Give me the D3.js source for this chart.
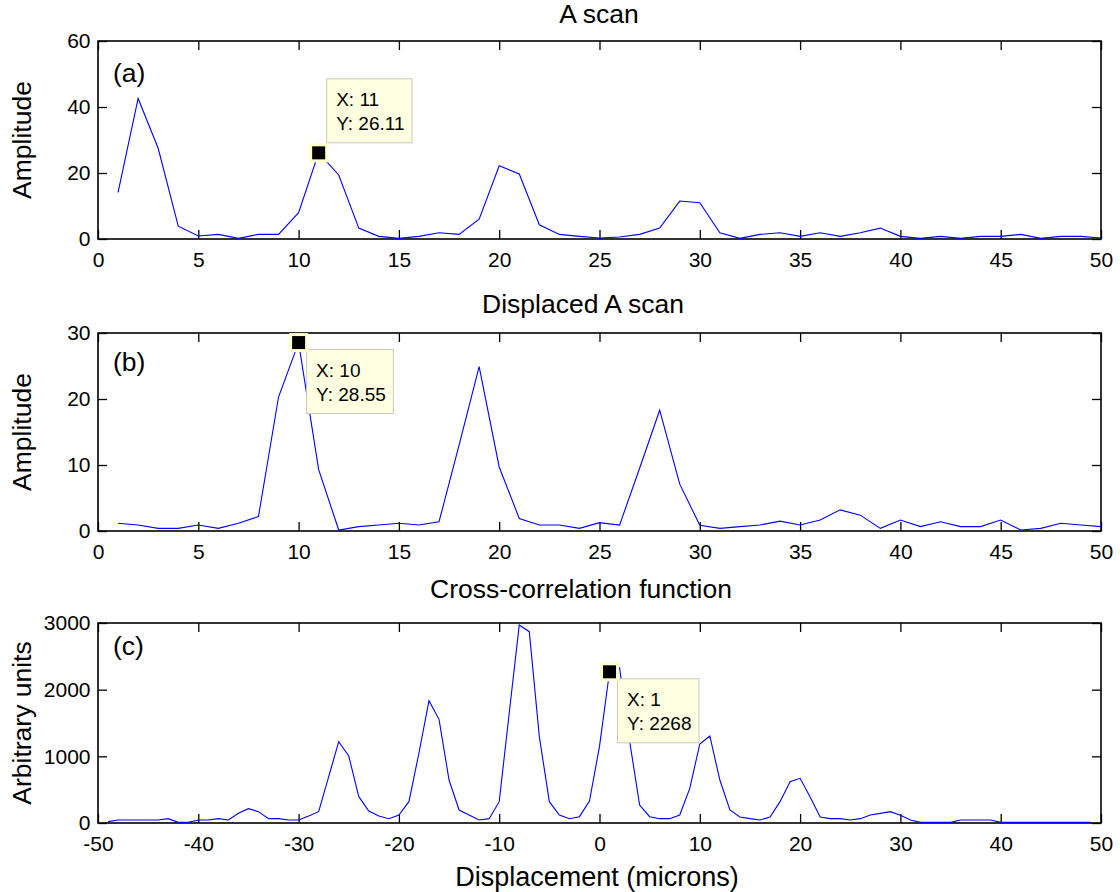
<!DOCTYPE html>
<html>
<head>
<meta charset="utf-8">
<script src="https://cdn.jsdelivr.net/npm/d3@7"></script>
<style>
  body { margin: 0; background: #fff; }
  svg { display: block; }
  text { font-family: "Liberation Sans", Arial, Helvetica, sans-serif; fill: #000; }
</style>
</head>
<body>
<svg id="fig" width="1120" height="892"></svg>
<script>
// ---- data -------------------------------------------------------------
// A scan amplitude, samples 1..50
const scanA = [
  14.1, 42.6, 27.5, 3.9, 0.9, 1.4, 0.2, 1.4, 1.4, 8.0,
  26.11, 19.4, 3.3, 0.8, 0.2, 0.8, 1.9, 1.4, 6.0, 22.2,
  19.7, 4.3, 1.4, 0.8, 0.3, 0.6, 1.4, 3.3, 11.5, 11.0,
  1.9, 0.2, 1.4, 1.9, 0.8, 1.9, 0.8, 1.9, 3.3, 0.8,
  0.2, 0.8, 0.2, 0.8, 0.8, 1.4, 0.2, 0.8, 0.8, 0.3
];
// Displaced A scan amplitude, samples 1..50
const scanB = [
  1.17, 0.9, 0.4, 0.4, 0.9, 0.4, 1.17, 2.2, 20.3, 28.55,
  9.3, 0.15, 0.66, 0.9, 1.17, 0.9, 1.4, 13.0, 24.9, 9.7,
  1.9, 0.9, 0.9, 0.4, 1.26, 0.9, 9.5, 18.3, 7.1, 0.86,
  0.4, 0.66, 0.9, 1.5, 0.9, 1.67, 3.2, 2.4, 0.4, 1.67,
  0.66, 1.4, 0.66, 0.66, 1.67, 0.15, 0.4, 1.17, 0.9, 0.66
];
// Cross-correlation, lags -49..49
const xcorr = [
  20, 45, 45, 45, 45, 45, 65, 10, 10, 45,
  45, 65, 45, 145, 215, 170, 65, 65, 45, 45,
  105, 170, 695, 1220, 1005, 395, 180, 105, 65, 120,
  320, 1050, 1835, 1555, 645, 195, 120, 45, 65, 320,
  1650, 2970, 2870, 1295, 320, 120, 65, 95, 330, 1150,
  2268, 2330, 1230, 270, 95, 65, 65, 120, 520, 1185,
  1305, 645, 195, 90, 65, 45, 90, 320, 620, 670,
  390, 90, 65, 65, 45, 65, 120, 145, 170, 115,
  45, 10, 10, 10, 10, 45, 45, 45, 45, 10,
  10, 10, 10, 10, 10, 10, 10, 10, 10
];
const sampleIndex = d3.range(1, 51);
const lags = d3.range(-49, 50);

// tick labels
const scanXTicks = [0, 5, 10, 15, 20, 25, 30, 35, 40, 45, 50];
const lagXTicks = [-50, -40, -30, -20, -10, 0, 10, 20, 30, 40, 50];
const scanAYTicks = [0, 20, 40, 60];
const scanBYTicks = [0, 10, 20, 30];
const xcorrYTicks = [0, 1000, 2000, 3000];

// titles and labels
const titles = ["A scan", "Displaced A scan", "Cross-correlation function"];
const panelTags = ["(a)", "(b)", "(c)"];
const yLabels = ["Amplitude", "Amplitude", "Arbitrary units"];
const xLabel = "Displacement (microns)";

// data cursors: x position of each marked point
const tipX = [11, 10, 1];

// ---- layout -----------------------------------------------------------
const svg = d3.select("#fig");
const L = 98, R = 1101;
const panels = [
  { top: 41,  bottom: 239, xs: sampleIndex, ys: scanA, xDom: [0, 50],   yDom: [0, 60],
    xt: scanXTicks, yt: scanAYTicks, titleY: 22.5, titleX: 599, tagDy: 41,   tipAbove: true },
  { top: 333, bottom: 531, xs: sampleIndex, ys: scanB, xDom: [0, 50],   yDom: [0, 30],
    xt: scanXTicks, yt: scanBYTicks, titleY: 312.5, titleX: 583, tagDy: 37.5, tipAbove: false },
  { top: 623, bottom: 823, xs: lags,        ys: xcorr, xDom: [-50, 50], yDom: [0, 3000],
    xt: lagXTicks,  yt: xcorrYTicks, titleY: 598, titleX: 581, tagDy: 31.5, tipAbove: false }
];

const TICK = 9;
const tickFont = 21, titleFont = 26.5, tipFont = 19;
const plainNumber = d => String(d);   // ASCII hyphen for negatives

panels.forEach((p, i) => {
  const x = d3.scaleLinear().domain(p.xDom).range([L, R]);
  const y = d3.scaleLinear().domain(p.yDom).range([p.bottom, p.top]);
  const g = svg.append("g");

  // inward ticks on all four sides
  const styleAxis = sel => {
    sel.select(".domain").remove();
    sel.selectAll(".tick line").attr("stroke", "#000").attr("stroke-width", 1.3);
    sel.selectAll(".tick text").attr("font-size", tickFont).attr("fill", "#000");
  };
  g.append("g").attr("transform", `translate(0,${p.bottom})`)
    .call(d3.axisBottom(x).tickValues(p.xt).tickSize(-TICK).tickPadding(13.5).tickFormat(plainNumber))
    .call(styleAxis);
  g.append("g").attr("transform", `translate(0,${p.top})`)
    .call(d3.axisTop(x).tickValues(p.xt).tickSize(-TICK).tickFormat(""))
    .call(styleAxis);
  g.append("g").attr("transform", `translate(${L},0)`)
    .call(d3.axisLeft(y).tickValues(p.yt).tickSize(-TICK).tickPadding(7.5).tickFormat(plainNumber))
    .call(styleAxis);
  g.append("g").attr("transform", `translate(${R},0)`)
    .call(d3.axisRight(y).tickValues(p.yt).tickSize(-TICK).tickFormat(""))
    .call(styleAxis);

  // axes box
  g.append("rect")
    .attr("x", L).attr("y", p.top)
    .attr("width", R - L).attr("height", p.bottom - p.top)
    .attr("fill", "none").attr("stroke", "#000").attr("stroke-width", 1.6);

  // signal trace
  const line = d3.line().x((d, k) => x(p.xs[k])).y(d => y(d));
  g.append("path").datum(p.ys)
    .attr("d", line)
    .attr("fill", "none").attr("stroke", "#0000ff").attr("stroke-width", 1.1);

  // title
  g.append("text")
    .attr("x", p.titleX).attr("y", p.titleY)
    .attr("text-anchor", "middle").attr("font-size", titleFont)
    .text(titles[i]);

  // panel tag
  g.append("text")
    .attr("x", L + 15).attr("y", p.top + p.tagDy)
    .attr("font-size", titleFont)
    .text(panelTags[i]);

  // y label
  g.append("text")
    .attr("transform", `translate(31,${(p.top + p.bottom) / 2}) rotate(-90)`)
    .attr("text-anchor", "middle").attr("font-size", titleFont)
    .text(yLabels[i]);

  // data cursor
  const k = p.xs.indexOf(tipX[i]);
  const xv = p.xs[k], yv = p.ys[k];
  const px = x(xv), py = y(yv);
  const tip = g.append("g");
  const bx = px + 8;
  const by = p.tipAbove ? py - 74 : py + 7;
  const box = tip.append("rect")
    .attr("x", bx).attr("y", by).attr("height", 64)
    .attr("fill", "#ffffe1").attr("stroke", "#c9c9bf").attr("stroke-width", 1);
  const lines = [`X: ${xv}`, `Y: ${yv}`];
  let maxW = 0;
  lines.forEach((s, j) => {
    const t = tip.append("text")
      .attr("x", bx + 9.5).attr("y", by + 27.5 + j * 23.5)
      .attr("font-size", tipFont).text(s);
    maxW = Math.max(maxW, t.node().getComputedTextLength());
  });
  box.attr("width", maxW + 17);
  tip.append("rect")
    .attr("x", px - 9.5).attr("y", py - 9.5).attr("width", 19).attr("height", 19)
    .attr("fill", "#ffffcc");
  tip.append("rect")
    .attr("x", px - 6.5).attr("y", py - 6.5).attr("width", 13).attr("height", 13)
    .attr("fill", "#000");
});

// shared x label
svg.append("text")
  .attr("x", 597).attr("y", 886)
  .attr("text-anchor", "middle").attr("font-size", 27)
  .text(xLabel);
</script>
</body>
</html>
